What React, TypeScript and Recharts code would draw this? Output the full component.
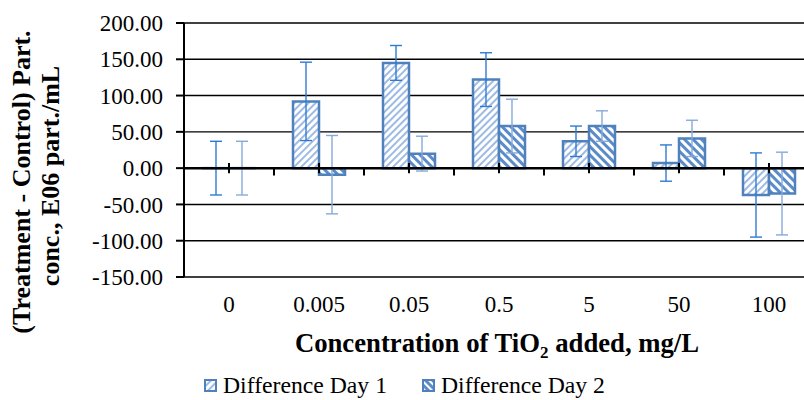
import React from 'react';
import { BarChart, Bar, XAxis, YAxis, CartesianGrid, ErrorBar, ReferenceLine } from 'recharts';

const categories = ['0', '0.005', '0.05', '0.5', '5', '50', '100'];
// control column is a difference of ~0, kept as a hair above zero so its error bars still draw
const day1 = [0.01, 92, 145, 122, 37, 7, -37];
const day2 = [0.01, -9, 20, 58, 58, 41, -35];
const err1 = [37, 54, 24, 37, 21, 25, 58];
const err2 = [37, 54, 24, 37, 21, 25, 57];
const yTicks = [-150, -100, -50, 0, 50, 100, 150, 200];
const yMinorTicks = [-125, -75, -25, 25, 75, 125, 175];

const data = categories.map((c, i) => ({
  conc: c,
  day1: day1[i],
  day2: day2[i],
  err1: err1[i],
  err2: err2[i],
}));

const FONT = "'Liberation Serif', 'Times New Roman', serif";
const BORDER = '#4f81bd';

const YLabel = () => (
  <g fontFamily={FONT} fontWeight="bold" fontSize={26} fill="#000">
    <text transform="translate(30,182) rotate(-90)" textAnchor="middle">(Treatment - Control) Part.</text>
    <text transform="translate(59,176) rotate(-90)" textAnchor="middle">conc., E06 part./mL</text>
  </g>
);

const XLabel = (props: any) => {
  const vb = props.viewBox || { x: 184, width: 630 };
  return (
    <text x={vb.x + vb.width / 2 - 2} y={352} textAnchor="middle" fontFamily={FONT} fontWeight="bold" fontSize={26.7} fill="#000">
      Concentration of TiO<tspan dy={6} fontSize={17}>2</tspan><tspan dy={-6}> added, mg/L</tspan>
    </text>
  );
};

const LegendIcon = ({ id, dir }: { id: string; dir: number }) => (
  <svg width={13} height={13} style={{ marginRight: 6 }}>
    <defs>
      <pattern id={id} patternUnits="userSpaceOnUse" width={5} height={5} patternTransform={`rotate(${dir})`}>
        <rect width={5} height={5} fill="#fff" />
        <rect width={dir > 0 ? 2 : 3} height={5} fill={dir > 0 ? '#9dbbe4' : '#5b8bc9'} />
      </pattern>
    </defs>
    <rect x={1} y={1} width={11} height={11} fill={`url(#${id})`} stroke={BORDER} strokeWidth={2} />
  </svg>
);

export default function App() {
  return (
    <div style={{ position: 'absolute', left: 0, top: 0, width: 804, height: 400, overflow: 'hidden', background: '#fff' }}>
      <BarChart
        width={830}
        height={400}
        data={data}
        margin={{ top: 23, right: 16, bottom: 93, left: 0 }}
        barCategoryGap={19}
        barGap={0}
        style={{ fontFamily: FONT }}
      >
        <defs>
          <pattern id="stripeUp" patternUnits="userSpaceOnUse" width={5} height={5} patternTransform="rotate(45)">
            <rect width={5} height={5} fill="#fff" />
            <rect width={2} height={5} fill="#9dbbe4" />
          </pattern>
          <pattern id="stripeDown" patternUnits="userSpaceOnUse" width={6} height={6} patternTransform="rotate(-45)">
            <rect width={6} height={6} fill="#fff" />
            <rect width={3} height={6} fill="#5b8bc9" />
          </pattern>
        </defs>
        <CartesianGrid vertical={false} stroke="#000" strokeWidth={1.4} />
        <XAxis
          dataKey="conc"
          height={30}
          axisLine={false}
          tickLine={false}
          tickSize={0}
          tickMargin={19}
          tick={{ fill: '#000', fontSize: 23, fontFamily: FONT }}
          interval={0}
          label={{ content: (p: any) => <XLabel {...p} /> }}
        />
        <YAxis
          width={184}
          domain={[-150, 200]}
          ticks={yTicks}
          interval={0}
          allowDataOverflow
          tickFormatter={(v: number) => v.toFixed(2)}
          tick={{ fill: '#000', fontSize: 23, fontFamily: FONT }}
          tickSize={8}
          tickMargin={13}
          tickLine={{ stroke: '#000', strokeWidth: 2 }}
          axisLine={{ stroke: '#000', strokeWidth: 2 }}
          label={{ content: () => <YLabel /> }}
        />
        <YAxis
          yAxisId="minor"
          width={0}
          mirror
          domain={[-150, 200]}
          ticks={yMinorTicks}
          interval={0}
          allowDataOverflow
          tick={false}
          tickSize={6}
          tickLine={{ stroke: '#000', strokeWidth: 2 }}
          axisLine={false}
        />
        <Bar dataKey="day1" fill="url(#stripeUp)" stroke={BORDER} strokeWidth={2.5} isAnimationActive={false}>
          <ErrorBar dataKey="err1" width={6} stroke="#2f7bd3" strokeWidth={1.4} isAnimationActive={false} />
        </Bar>
        <Bar dataKey="day2" fill="url(#stripeDown)" stroke={BORDER} strokeWidth={2.5} isAnimationActive={false}>
          <ErrorBar dataKey="err2" width={6} stroke="#86a9dc" strokeWidth={1.4} isAnimationActive={false} />
        </Bar>
        <ReferenceLine y={0} stroke="#000" strokeWidth={2.5} />
        {categories.map((c) => (
          <ReferenceLine
            key={`c-${c}`}
            segment={[{ x: c, y: 7 }, { x: c, y: -7 }]}
            position="middle"
            stroke="#000"
            strokeWidth={2}
          />
        ))}
        {categories.slice(1).map((c) => (
          <ReferenceLine
            key={`b-${c}`}
            segment={[{ x: c, y: 0 }, { x: c, y: -10 }]}
            position="start"
            stroke="#000"
            strokeWidth={2}
          />
        ))}
      </BarChart>
      <div
        style={{
          position: 'absolute',
          left: 204,
          top: 372,
          display: 'flex',
          alignItems: 'center',
          fontFamily: FONT,
          fontSize: 23.7,
          lineHeight: '26px',
          color: '#000',
          whiteSpace: 'nowrap',
        }}
      >
        <LegendIcon id="lg1" dir={45} />
        <span style={{ marginRight: 35 }}>Difference Day 1</span>
        <LegendIcon id="lg2" dir={-45} />
        <span>Difference Day 2</span>
      </div>
    </div>
  );
}
